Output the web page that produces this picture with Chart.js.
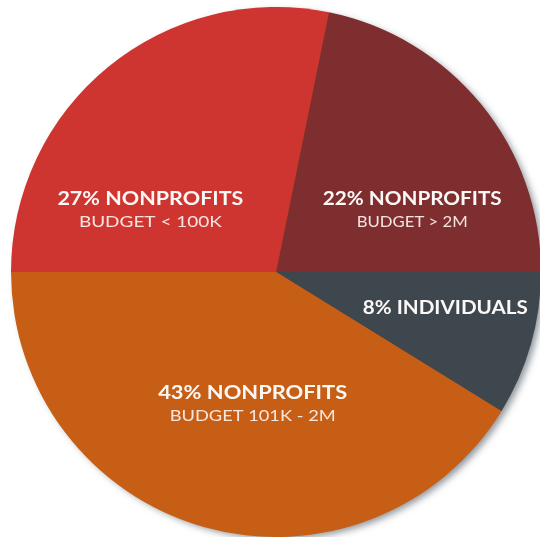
<!DOCTYPE html>
<html>
<head>
<meta charset="utf-8">
<script src="https://cdn.jsdelivr.net/npm/chart.js@4"></script>
<style>
  html, body { margin: 0; padding: 0; background: #fff; overflow: hidden; }
  #wrap { position: absolute; left: -4px; top: -8px; width: 560px; height: 560px; }
</style>
</head>
<body>
<div id="wrap"><canvas id="pie"></canvas></div>
<script>
// slices run clockwise from the left edge (9 o'clock)
const categories = ['Nonprofits budget < 100K', 'Nonprofits budget > 2M', 'Individuals', 'Nonprofits budget 101K - 2M']
const shares = [28.2, 21.8, 8.8, 41.2]
const headlines = ['27% NONPROFITS', '22% NONPROFITS', '8% INDIVIDUALS', '43% NONPROFITS']
const sublines = ['BUDGET < 100K', 'BUDGET > 2M', '', 'BUDGET 101K - 2M']
const colors = ['#cf3530', '#7f2e30', '#3f474e', '#c75e16']

// label placement: offset from the pie centre as a fraction of the radius,
// plus the width each line should fill (px)
const labelSpots = [
  { dx: -0.474, dy: -0.253, w1: 186, w2: 143 },
  { dx: 0.514, dy: -0.253, w1: 179, w2: 111 },
  { dx: 0.639, dy: 0.158, w1: 165, w2: 0 },
  { dx: -0.088, dy: 0.480, w1: 189, w2: 166 },
]

const BOLD = 'bold 18.5px Lato, "Open Sans", sans-serif'
const LIGHT = '16px Lato, "Open Sans", sans-serif'

const shadowPlugin = {
  id: 'pieShadow',
  beforeDatasetsDraw(chart) {
    const arc = chart.getDatasetMeta(0).data[0]
    if (!arc) return
    const ctx = chart.ctx
    ctx.save()
    ctx.shadowColor = 'rgba(70,80,90,0.6)'
    ctx.shadowBlur = 7
    ctx.shadowOffsetX = 4
    ctx.shadowOffsetY = 3
    ctx.beginPath()
    ctx.arc(arc.x, arc.y, arc.outerRadius - 1, 0, Math.PI * 2)
    ctx.fillStyle = colors[3]
    ctx.fill()
    ctx.restore()
  }
}

// draw text squeezed/stretched horizontally to a given width
function fittedText(ctx, text, x, y, width) {
  const sx = width / ctx.measureText(text).width
  ctx.save()
  ctx.translate(x, y)
  ctx.scale(sx, 1)
  ctx.fillText(text, 0, 0)
  ctx.restore()
}

const labelPlugin = {
  id: 'sliceLabels',
  afterDatasetsDraw(chart) {
    const arc = chart.getDatasetMeta(0).data[0]
    if (!arc) return
    const ctx = chart.ctx
    const r = arc.outerRadius
    ctx.save()
    ctx.textAlign = 'center'
    ctx.textBaseline = 'alphabetic'
    headlines.forEach((head, i) => {
      const spot = labelSpots[i]
      const x = arc.x + spot.dx * r
      const y = arc.y + spot.dy * r
      ctx.fillStyle = '#fbf8f6'
      ctx.font = BOLD
      fittedText(ctx, head, x, y, spot.w1)
      if (sublines[i]) {
        ctx.fillStyle = 'rgba(250,238,234,0.95)'
        ctx.font = LIGHT
        fittedText(ctx, sublines[i], x, y + 22, spot.w2)
      }
    })
    ctx.restore()
  }
}

new Chart(document.getElementById('pie'), {
  type: 'pie',
  data: {
    labels: categories,
    datasets: [{
      data: shares,
      backgroundColor: colors,
      borderWidth: 0,
      hoverOffset: 0,
    }]
  },
  options: {
    responsive: true,
    maintainAspectRatio: false,
    animation: false,
    rotation: 270,
    layout: { padding: 15 },
    plugins: {
      legend: { display: false },
      tooltip: { enabled: false },
    }
  },
  plugins: [shadowPlugin, labelPlugin]
})
</script>
</body>
</html>
